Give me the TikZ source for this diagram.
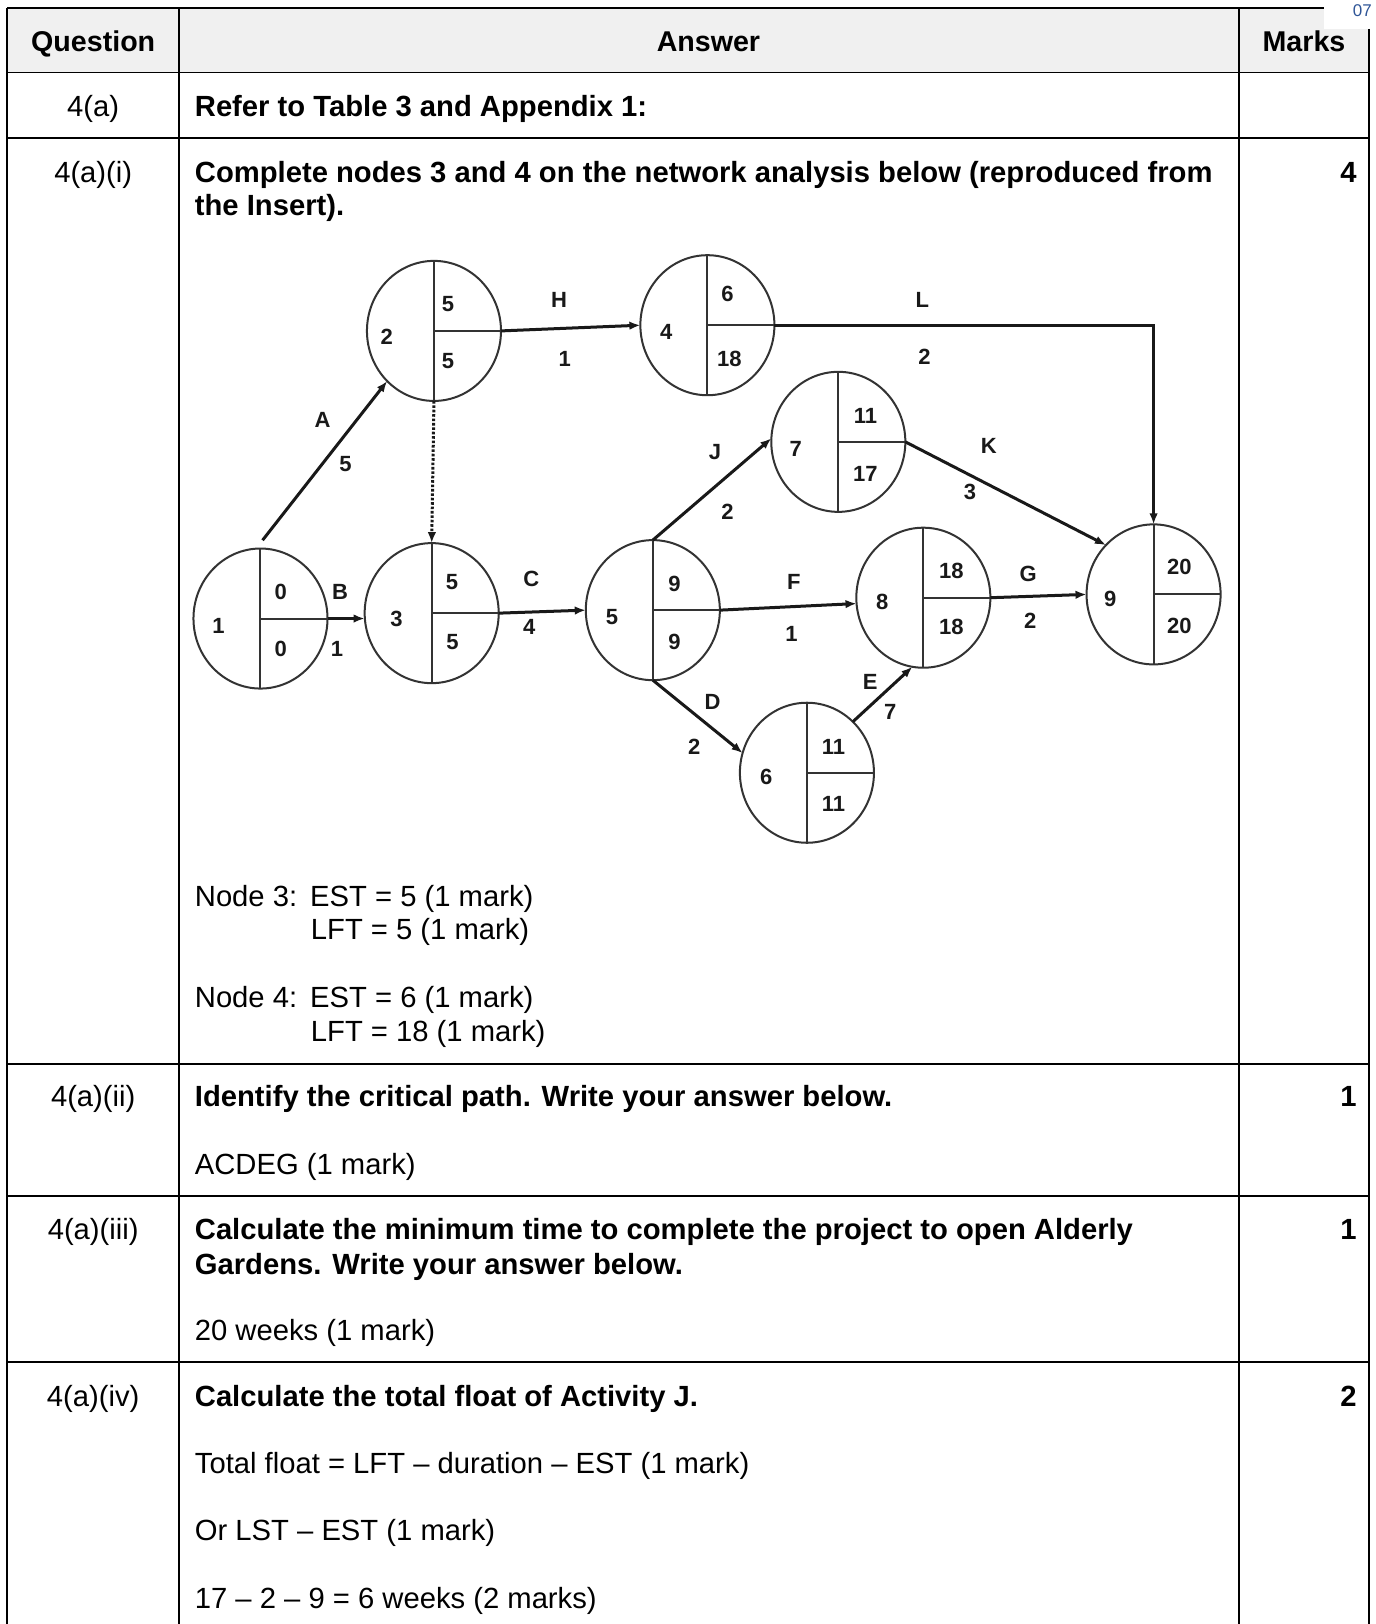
\documentclass[tikz,border=0pt]{standalone}
\usepackage{fontspec}
\setmainfont{Liberation Sans}
\usetikzlibrary{shapes.geometric,arrows.meta,calc}
\begin{document}
\begin{tikzpicture}[x=1.0354pt,y=-1.0354pt,
  txt/.style={anchor=west,inner sep=0pt,text height=20.9pt,text depth=0pt,font=\fontsize{29.2pt}{33pt}\selectfont},
  btxt/.style={txt,font=\fontsize{29.2pt}{33pt}\selectfont\bfseries},
  ctxt/.style={txt,anchor=center},
  cbtxt/.style={txt,anchor=center,font=\fontsize{28.6pt}{33pt}\selectfont\bfseries},
  rbtxt/.style={btxt,anchor=east},
  tbl/.style={line width=1.8pt,black},
  nd/.style={ellipse,draw=black!80,line width=2pt,minimum width=134pt,minimum height=140pt,inner sep=0pt,outer sep=0pt},
  div/.style={line width=2pt,black!80},
  arr/.style={line width=3pt,black!90,-{Latex[length=11pt,width=8.5pt]}},
  dummy/.style={line width=3pt,black!90,dash pattern=on 2.6pt off 1.8pt,-{Latex[length=11pt,width=8.5pt]}},
  lbl/.style={inner sep=0pt,font=\fontsize{22pt}{22pt}\selectfont\bfseries,text height=15.8pt,text depth=0pt,black!90}
]
\useasboundingbox (0,0) rectangle (1328,1568);
\fill[white] (0,0) rectangle (1328,1568);
% header fill
\fill[gray!12] (7,8) rectangle (1322,70);
\fill[white] (1278,0) rectangle (1328,28);
\node[anchor=west,inner sep=0pt,font=\fontsize{17pt}{17pt}\selectfont,text={rgb,255:red,47;green,85;blue,151}] (pg) at (1306,10) {07};
% table lines
\draw[tbl] (7,8) -- (1278,8);
\draw[tbl] (7,8) -- (7,1568);
\draw[tbl] (173,8) -- (173,1568);
\draw[tbl] (1196,8) -- (1196,1568);
\draw[tbl] (1322,28) -- (1322,1568);
\foreach \yy in {70,133,1027,1155,1315} \draw[tbl] (7,\yy) -- (1322,\yy);
% header
\node[cbtxt] (hq) at (90,40) {Question};
\node[cbtxt] (ha) at (684,40) {Answer};
\node[cbtxt] (hm) at (1259,40) {Marks};
% row 4(a)
\node[ctxt] (q1) at (90,102) {4(a)};
\node[btxt] (a1) at (188,102) {Refer to Table 3 and Appendix 1:};
% row 4(a)(i)
\node[ctxt] (q2) at (90,166) {4(a)(i)};
\node[btxt] (a2a) at (188,166) {Complete nodes 3 and 4 on the network analysis below (reproduced from};
\node[btxt] (a2b) at (188,198) {the Insert).};
\node[rbtxt] (m2) at (1310,166) {4};
\node[txt] (a2c) at (188,865) {Node 3:\hspace{13pt}EST = 5 (1 mark)};
\node[txt] (a2d) at (300,897) {LFT = 5 (1 mark)};
\node[txt] (a2e) at (188,963) {Node 4:\hspace{13pt}EST = 6 (1 mark)};
\node[txt] (a2f) at (300,995) {LFT = 18 (1 mark)};
% row 4(a)(ii)
\node[ctxt] (q3) at (90,1058) {4(a)(ii)};
\node[btxt] (a3a) at (188,1058) {Identify the critical path. Write your answer below.};
\node[rbtxt] (m3) at (1310,1058) {1};
\node[txt] (a3b) at (188,1124) {ACDEG (1 mark)};
% row 4(a)(iii)
\node[ctxt] (q4) at (90,1187) {4(a)(iii)};
\node[btxt] (a4a) at (188,1187) {Calculate the minimum time to complete the project to open Alderly};
\node[btxt] (a4b) at (188,1220) {Gardens. Write your answer below.};
\node[rbtxt] (m4) at (1310,1187) {1};
\node[txt] (a4c) at (188,1284) {20 weeks (1 mark)};
% row 4(a)(iv)
\node[ctxt] (q5) at (90,1348) {4(a)(iv)};
\node[btxt] (a5a) at (188,1348) {Calculate the total float of Activity J.};
\node[rbtxt] (m5) at (1310,1348) {2};
\node[txt] (a5b) at (188,1413) {Total float = LFT – duration – EST (1 mark)};
\node[txt] (a5c) at (188,1477) {Or LST – EST (1 mark)};
\node[txt] (a5d) at (188,1543) {17 – 2 – 9 = 6 weeks (2 marks)};
% network nodes
\node[nd] (n1) at (251.5,597.2) {};
\node[nd] (n2) at (419,319.5) {};
\node[nd] (n3) at (416.8,592) {};
\node[nd] (n4) at (683,314) {};
\node[nd] (n5) at (630.3,589.1) {};
\node[nd] (n6) at (779.1,746.1) {};
\node[nd] (n7) at (809.4,426.6) {};
\node[nd] (n8) at (891.5,577.1) {};
\node[nd] (n9) at (1113.8,573.9) {};
\foreach \n in {n1,n2,n3,n4,n5,n6,n7,n8,n9} {
  \draw[div] (\n.north) -- (\n.south);
  \draw[div] (\n.center) -- (\n.east);
}
% node labels
\node[lbl] (l1a) at (211,603.6) {1};    \node[lbl] (l1b) at (271,571.5) {0};    \node[lbl] (l1c) at (271,626.1) {0};
\node[lbl] (l2a) at (373.5,325) {2};    \node[lbl] (l2b) at (432.6,293) {5};    \node[lbl] (l2c) at (432.6,347.7) {5};
\node[lbl] (l3a) at (382.7,597) {3};    \node[lbl] (l3b) at (436.3,561.8) {5};  \node[lbl] (l3c) at (437,619.7) {5};
\node[lbl] (l4a) at (643.2,320.4) {4};  \node[lbl] (l4b) at (702.4,283.3) {6};  \node[lbl] (l4c) at (704.3,346) {18};
\node[lbl] (l5a) at (590.8,595.6) {5};  \node[lbl] (l5b) at (651.3,563.4) {9};  \node[lbl] (l5c) at (651.3,619.7) {9};
\node[lbl] (l6a) at (739.8,750.1) {6};  \node[lbl] (l6b) at (804.8,721.2) {11}; \node[lbl] (l6c) at (804.8,775.9) {11};
\node[lbl] (l7a) at (768.4,433) {7};    \node[lbl] (l7b) at (835.6,400.8) {11}; \node[lbl] (l7c) at (835.6,457.1) {17};
\node[lbl] (l8a) at (851.7,581.1) {8};  \node[lbl] (l8b) at (918.5,550.5) {18}; \node[lbl] (l8c) at (918.5,605.3) {18};
\node[lbl] (l9a) at (1071.9,577.8) {9}; \node[lbl] (l9b) at (1138.8,547.3) {20}; \node[lbl] (l9c) at (1138.8,603.6) {20};
% arrows
\draw[arr] ($(n1.north)+(2,-8)$) -- (n2.227);
\draw[dummy] (n2.south) -- (n3.north);
\draw[arr] (n1.east) -- (n1.east -| n3.west);
\draw[arr] (n3.east) -- (n5.west);
\draw[arr] (n2.east) -- (n4.west);
\draw[arr] (n4.east) -| (n9.north);
\draw[arr] (n5.north) -- (n7.177);
\draw[arr] (n7.east) -- (n9.134);
\draw[arr] (n5.east) -- (n8.185);
\draw[arr] (n8.east) -- (n9.west);
\draw[arr] (n5.south) -- (n6.163);
\draw[arr] (n6.48) -- (n8.261);
% arrow labels
\node[lbl] (tA) at (311.4,405) {A};   \node[lbl] (dA) at (333.5,447.5) {5};
\node[lbl] (tB) at (328.4,571.5) {B}; \node[lbl] (dB) at (325.4,626.1) {1};
\node[lbl] (tC) at (513.1,558.5) {C}; \node[lbl] (dC) at (510.9,605.3) {4};
\node[lbl] (tH) at (539.8,289.7) {H}; \node[lbl] (dH) at (545.3,346) {1};
\node[lbl] (tL) at (890.5,289.7) {L}; \node[lbl] (dL) at (892.5,344.5) {2};
\node[lbl] (tJ) at (690.3,436.3) {J}; \node[lbl] (dJ) at (702.3,494.2) {2};
\node[lbl] (tK) at (954.6,429.8) {K}; \node[lbl] (dK) at (936.5,474.9) {3};
\node[lbl] (tF) at (766.4,561.8) {F}; \node[lbl] (dF) at (764.3,611.6) {1};
\node[lbl] (tG) at (992.7,553.7) {G}; \node[lbl] (dG) at (994.6,598.8) {2};
\node[lbl] (tD) at (688,677.7) {D};   \node[lbl] (dD) at (670.3,720.5) {2};
\node[lbl] (tE) at (840.3,658.4) {E}; \node[lbl] (dE) at (859.6,687.4) {7};
\end{tikzpicture}
\end{document}
